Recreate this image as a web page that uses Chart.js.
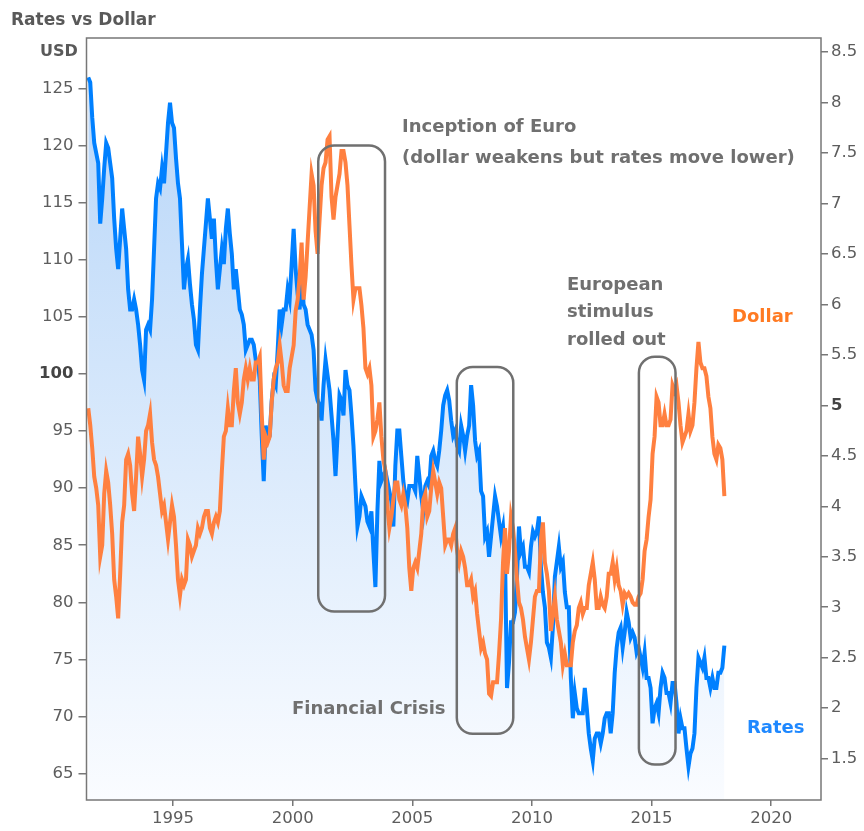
<!DOCTYPE html>
<html>
<head>
<meta charset="utf-8">
<script src="https://cdn.jsdelivr.net/npm/chart.js@4"></script>
<style>
  html, body { margin: 0; padding: 0; background: #fff; }
  #wrap { width: 864px; height: 831px; }
</style>
</head>
<body>
<div id="wrap"><canvas id="myChart" width="864" height="831"></canvas></div>
<script>
// monthly readings, June 1991 .. January 2018 (one value per month)
const firstMonth = 1991 + 5.5 / 12;

// US 10y yield, % (right axis)
const rates = [
  8.25, 8.2, 7.85, 7.6, 7.5, 7.4, 6.8,
  7.05, 7.35, 7.6, 7.55, 7.4, 7.25, 6.85, 6.55, 6.35, 6.65, 6.95, 6.75,
  6.55, 6.15, 5.95, 5.95, 6.05, 5.95, 5.8, 5.6, 5.35, 5.25, 5.75, 5.8,
  5.75, 6.05, 6.55, 7.05, 7.2, 7.15, 7.35, 7.2, 7.5, 7.8, 8.0, 7.8,
  7.75, 7.45, 7.2, 7.05, 6.6, 6.15, 6.35, 6.45, 6.2, 6.0, 5.85, 5.6,
  5.55, 5.95, 6.3, 6.55, 6.8, 7.05, 6.85, 6.65, 6.85, 6.45, 6.15, 6.35,
  6.55, 6.4, 6.75, 6.95, 6.7, 6.5, 6.15, 6.35, 6.15, 5.95, 5.9, 5.8,
  5.55, 5.6, 5.65, 5.65, 5.6, 5.45, 5.45, 5.25, 4.7, 4.25, 4.8, 4.65,
  4.7, 5.05, 5.25, 5.2, 5.55, 5.95, 5.8, 5.95, 5.95, 6.15, 6.05, 6.4,
  6.75, 6.35, 6.1, 5.95, 6.3, 6.0, 5.95, 5.8, 5.75, 5.7, 5.55, 5.15,
  5.05, 5.0, 4.85, 5.2, 5.45, 5.3, 5.15, 4.9, 4.65, 4.3, 4.7, 5.1,
  5.05, 4.9, 5.35, 5.2, 5.15, 4.9, 4.6, 4.2, 3.8, 3.9, 4.1, 4.05,
  4.0, 3.85, 3.8, 3.95, 3.55, 3.2, 3.95, 4.45, 4.25, 4.3, 4.35, 4.25,
  4.15, 4.05, 3.8, 4.4, 4.75, 4.75, 4.5, 4.25, 4.1, 4.05, 4.2, 4.2,
  4.2, 4.15, 4.5, 4.3, 4.1, 3.95, 4.2, 4.25, 4.2, 4.5, 4.55, 4.45,
  4.4, 4.55, 4.75, 5.0, 5.1, 5.15, 5.05, 4.85, 4.7, 4.75, 4.6, 4.55,
  4.8, 4.7, 4.55, 4.7, 4.8, 5.2, 5.0, 4.65, 4.5, 4.55, 4.15, 4.1,
  3.7, 3.75, 3.5, 3.7, 3.9, 4.1, 4.0, 3.85, 3.7, 3.8, 3.5, 2.2,
  2.45, 2.85, 2.85, 2.95, 3.3, 3.8, 3.55, 3.6, 3.4, 3.4, 3.35, 3.6,
  3.75, 3.7, 3.75, 3.9, 3.4, 3.15, 3.0, 2.65, 2.6, 2.5, 2.8, 3.3,
  3.45, 3.6, 3.4, 3.45, 3.15, 3.0, 3.0, 2.3, 1.9, 2.15, 2.0, 1.95,
  1.95, 1.95, 2.2, 2.0, 1.75, 1.6, 1.48, 1.7, 1.75, 1.75, 1.65, 1.75,
  1.9, 1.95, 1.95, 1.75, 1.95, 2.35, 2.6, 2.75, 2.8, 2.6, 2.75, 2.95,
  2.85, 2.7, 2.75, 2.7, 2.55, 2.6, 2.5, 2.4, 2.55, 2.3, 2.3, 2.2,
  1.85, 2.0, 2.05, 1.95, 2.2, 2.35, 2.3, 2.15, 2.15, 2.05, 2.25, 2.25,
  2.05, 1.75, 1.9, 1.8, 1.8, 1.6, 1.42, 1.55, 1.6, 1.75, 2.2, 2.5,
  2.45, 2.4, 2.5, 2.3, 2.3, 2.2, 2.3, 2.2, 2.2, 2.35, 2.35, 2.4,
  2.62
];

// US dollar index (left axis)
const dollar = [
  97.0, 95.5, 93.5, 91.0, 90.0, 88.5, 84.0,
  85.0, 89.5, 91.5, 90.5, 88.5, 86.0, 82.0, 80.5, 78.6, 82.5, 87.0, 88.5,
  92.5, 93.0, 92.0, 89.5, 88.0, 91.0, 94.5, 93.0, 91.0, 92.5, 95.0, 95.5,
  96.5, 94.0, 92.5, 92.0, 91.0, 89.5, 88.0, 88.5, 87.0, 85.5, 87.0, 88.5,
  87.5, 85.0, 82.0, 80.6, 82.0, 81.5, 82.0, 85.5, 85.0, 84.0, 84.5, 85.0,
  86.5, 86.0, 86.5, 87.5, 88.0, 88.0, 86.5, 86.0, 87.0, 87.5, 87.0, 88.0,
  91.5, 94.5, 95.0, 97.0, 95.5, 95.5, 98.5, 100.5, 97.5, 96.5, 97.5, 99.5,
  100.5, 99.5, 100.5, 99.5, 99.5, 101.0, 101.0, 101.5, 96.5, 92.5, 94.5, 94.0,
  94.5, 97.5, 99.5, 100.5, 101.0, 102.5, 101.0, 99.0, 98.5, 98.5, 100.5, 101.5,
  102.5, 105.5, 106.5, 108.5, 111.5, 106.5, 108.5, 111.5, 114.5, 117.5, 116.5, 112.5,
  110.5, 113.5, 116.5, 118.0, 118.5, 120.5, 120.8, 115.5, 113.5, 115.5, 116.5, 117.5,
  119.5, 119.5, 118.5, 116.5, 113.0, 109.5, 106.5, 107.5, 107.5, 107.5, 106.0, 104.0,
  100.5, 100.0, 100.5, 99.0, 94.5, 95.0, 96.0, 97.5, 94.5, 92.5, 91.5, 88.5,
  86.5, 87.5, 89.0, 90.5, 90.5, 89.0, 88.5, 89.5, 88.5, 86.5, 83.0, 81.0,
  83.0, 83.5, 83.0, 84.5, 86.0, 89.0, 89.5, 87.5, 88.0, 90.0, 91.5, 90.5,
  89.5, 90.5, 90.0, 87.5, 85.0, 85.5, 85.5, 85.0, 86.0, 86.5, 84.5, 83.5,
  84.5, 84.0, 83.0, 81.5, 81.5, 82.0, 80.5, 81.0, 79.0, 77.5, 76.0, 76.5,
  75.5, 75.0, 72.0, 71.8, 73.0, 73.0, 73.0, 75.5, 78.5, 83.5, 86.5, 82.5,
  84.5, 87.5, 86.5, 84.5, 82.0, 80.0, 79.5, 78.5, 77.0, 76.0, 75.0, 76.5,
  78.5, 80.5, 81.0, 81.0, 85.5, 87.0, 83.5, 82.5, 81.0, 77.5, 79.0, 80.5,
  78.5, 77.5, 76.5, 74.5, 75.5, 74.5, 74.5, 74.5, 76.5, 77.5, 78.0, 79.5,
  80.0, 79.0, 79.5, 79.5, 81.5, 82.5, 83.5, 82.0, 79.5, 79.5, 80.5, 79.8,
  79.5, 80.5, 82.5, 82.5, 83.5, 82.0, 83.0, 81.5, 81.0, 79.8, 80.8, 80.5,
  80.8, 80.5, 80.0, 79.8, 79.8, 80.5, 80.8, 82.0, 84.5, 85.5, 87.5, 89.0,
  93.0, 94.5, 98.0, 97.5, 95.5, 95.5, 96.5, 95.5, 95.5, 96.0, 99.0, 98.5,
  99.0, 97.5, 95.5, 94.0, 94.5, 95.0, 96.5, 95.0, 95.5, 97.5, 100.5, 102.8,
  101.0, 100.5, 100.5, 99.8, 98.0, 97.0, 94.5, 93.0, 92.5, 93.8, 93.5, 92.5,
  89.3
];

// axis ranges
const xRange = [1991.385, 2022.08];
const usdRange = [62.7, 129.4];
const rateRange = [1.09, 8.64];

// highlighted periods: years (x) and USD values (y)
const boxes = [
  { x0: 2001.07, x1: 2003.86, y0: 79.2, y1: 120.0 },
  { x0: 2006.86, x1: 2009.22, y0: 68.5, y1: 100.6 },
  { x0: 2014.47, x1: 2016.00, y0: 65.8, y1: 101.5 }
];

const FONT = "'DejaVu Sans', sans-serif";
const GREY = '#707070';

const toPoints = (arr) => arr.map((v, i) => ({ x: firstMonth + i / 12, y: v }));

const decor = {
  id: 'decor',
  afterDatasetsDraw(chart) {
    const { ctx, scales } = chart;
    ctx.save();
    ctx.strokeStyle = GREY;
    ctx.lineWidth = 2.5;
    boxes.forEach(b => {
      const l = scales.x.getPixelForValue(b.x0);
      const r = scales.x.getPixelForValue(b.x1);
      const t = scales.yL.getPixelForValue(b.y1);
      const btm = scales.yL.getPixelForValue(b.y0);
      ctx.beginPath();
      ctx.roundRect(l, t, r - l, btm - t, 16);
      ctx.stroke();
    });
    ctx.restore();
  },
  afterDraw(chart) {
    const { ctx, chartArea: a } = chart;
    ctx.save();
    ctx.strokeStyle = '#777';
    ctx.lineWidth = 1.5;
    ctx.strokeRect(a.left, a.top, a.right - a.left, a.bottom - a.top);

    ctx.textBaseline = 'middle';
    ctx.textAlign = 'left';
    ctx.fillStyle = '#595959';
    ctx.font = 'bold 17px ' + FONT;
    ctx.fillText('Rates vs Dollar', 11, 21);
    ctx.font = 'bold 16px ' + FONT;
    ctx.fillText('USD', 40, 52);

    ctx.font = 'bold 18px ' + FONT;
    ctx.fillStyle = GREY;
    ctx.fillText('Inception of Euro', 402, 127);
    ctx.fillText('(dollar weakens but rates move lower)', 402, 158);
    ctx.fillText('European', 567, 285);
    ctx.fillText('stimulus', 567, 312);
    ctx.fillText('rolled out', 567, 340);
    ctx.fillText('Financial Crisis', 292, 709);
    ctx.fillStyle = '#ff7a22';
    ctx.fillText('Dollar', 732, 317);
    ctx.fillStyle = '#1e88ff';
    ctx.fillText('Rates', 747, 728);
    ctx.restore();
  }
};

const tickFont = (bold) => (c) => ({
  family: FONT,
  size: 16.5,
  weight: c.tick && c.tick.value === bold ? 'bold' : 'normal'
});

const axisGrid = (len) => ({
  drawOnChartArea: false,
  drawTicks: true,
  tickLength: len,
  color: '#777',
  lineWidth: 1.5
});

new Chart(document.getElementById('myChart').getContext('2d'), {
  type: 'line',
  data: {
    datasets: [
      {
        label: 'Dollar',
        data: toPoints(dollar),
        yAxisID: 'yL',
        borderColor: '#ff8040',
        borderWidth: 4,
        pointRadius: 0,
        tension: 0,
        fill: false
      },
      {
        label: 'Rates',
        data: toPoints(rates),
        yAxisID: 'yR',
        borderColor: '#0080ff',
        borderWidth: 4,
        pointRadius: 0,
        tension: 0,
        fill: 'start',
        backgroundColor: (c) => {
          const a = c.chart.chartArea;
          if (!a) return 'rgba(0,0,0,0)';
          const g = c.chart.ctx.createLinearGradient(0, a.top, 0, a.bottom);
          g.addColorStop(0, 'rgb(180,212,248)');
          g.addColorStop(1, 'rgb(250,252,255)');
          return g;
        }
      }
    ]
  },
  options: {
    responsive: false,
    animation: false,
    layout: { padding: { top: 38, left: 0, right: 0, bottom: 0 } },
    plugins: {
      legend: { display: false },
      tooltip: { enabled: false }
    },
    scales: {
      x: {
        type: 'linear',
        position: 'bottom',
        min: xRange[0],
        max: xRange[1],
        grid: axisGrid(6),
        border: { display: false },
        afterFit: (s) => { s.height = 31; },
        ticks: {
          stepSize: 5,
          includeBounds: false,
          maxRotation: 0,
          padding: 3,
          color: '#5d5d5d',
          font: { family: FONT, size: 16.5 },
          callback: (v) => String(v)
        }
      },
      yL: {
        type: 'linear',
        position: 'left',
        min: usdRange[0],
        max: usdRange[1],
        grid: axisGrid(8),
        border: { display: false },
        afterFit: (s) => { s.width = 86.5; },
        ticks: {
          stepSize: 5,
          includeBounds: false,
          padding: 5,
          color: (c) => c.tick && c.tick.value === 100 ? '#444' : '#5d5d5d',
          font: tickFont(100),
          callback: (v) => String(v)
        }
      },
      yR: {
        type: 'linear',
        position: 'right',
        min: rateRange[0],
        max: rateRange[1],
        grid: axisGrid(7),
        border: { display: false },
        afterFit: (s) => { s.width = 43; },
        ticks: {
          stepSize: 0.5,
          includeBounds: false,
          padding: 3,
          color: (c) => c.tick && c.tick.value === 5 ? '#444' : '#5d5d5d',
          font: tickFont(5),
          callback: (v) => String(v)
        }
      }
    }
  },
  plugins: [decor]
});
</script>
</body>
</html>
